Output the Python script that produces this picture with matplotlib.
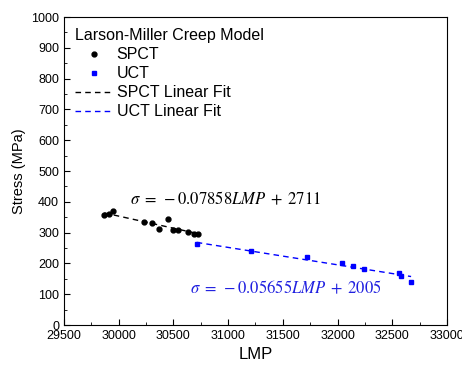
import numpy as np
import matplotlib.pyplot as plt
from matplotlib.ticker import MultipleLocator

plt.rcParams['font.family'] = ['Liberation Sans', 'DejaVu Sans']
plt.rcParams['mathtext.fontset'] = 'stix'

# datos
lmp_spct = [29868, 29914, 29951, 30234, 30302, 30371, 30448, 30499, 30545, 30636, 30691, 30722]
stress_spct = [356, 359, 370, 333, 331, 311, 345, 309, 308, 302, 296, 296]

lmp_uct = [30713, 31206, 31721, 32044, 32144, 32239, 32565, 32577, 32672]
stress_uct = [263, 240, 220, 200, 192, 181, 170, 160, 141]

# ajustes lineales
a_spct, b_spct = -0.07858, 2711
a_uct, b_uct = -0.05655, 2005

fig = plt.figure(figsize=(4.62, 3.70), dpi=100)
ax = fig.add_axes([0.1385, 0.1216, 0.829, 0.8324])

ax.plot(lmp_spct, stress_spct, 'o', color='black', markersize=3.5, label='SPCT', zorder=3)
ax.plot(lmp_uct, stress_uct, 's', color='blue', markersize=3, label='UCT', zorder=3)

xs = np.array([min(lmp_spct), max(lmp_spct)])
ax.plot(xs, a_spct * xs + b_spct, '--', color='black', lw=1, dashes=(4, 3), label='SPCT Linear Fit')
xu = np.array([min(lmp_uct), max(lmp_uct)])
ax.plot(xu, a_uct * xu + b_uct, '--', color='blue', lw=1, dashes=(4, 3), label='UCT Linear Fit')

ax.text(30100, 409, r'$\sigma\;=\;-0.07858LMP\;+\;2711$', fontsize=12, color='black', va='center')
ax.text(30650, 120, r'$\sigma\;=\;-0.05655LMP\;+\;2005$', fontsize=12, color='#2020e0', va='center')

ax.set_xlim(29500, 33000)
ax.set_ylim(0, 1000)
ax.xaxis.set_major_locator(MultipleLocator(500))
ax.xaxis.set_minor_locator(MultipleLocator(250))
ax.yaxis.set_major_locator(MultipleLocator(100))
ax.yaxis.set_minor_locator(MultipleLocator(50))
ax.tick_params(which='both', direction='in', labelsize=9)
ax.tick_params(which='major', length=4)
ax.tick_params(which='minor', length=2)
ax.set_xlabel('LMP', fontsize=12)
ax.set_ylabel('Stress (MPa)', fontsize=10.5)

leg = ax.legend(title='Larson-Miller Creep Model', loc='upper left', frameon=False,
                fontsize=11.5, title_fontsize=11.5, handlelength=2.3, handletextpad=0.3,
                labelspacing=0.25, borderaxespad=0.4, borderpad=0.3)
leg._legend_box.align = 'left'

fig.savefig('out.png', dpi=100)
